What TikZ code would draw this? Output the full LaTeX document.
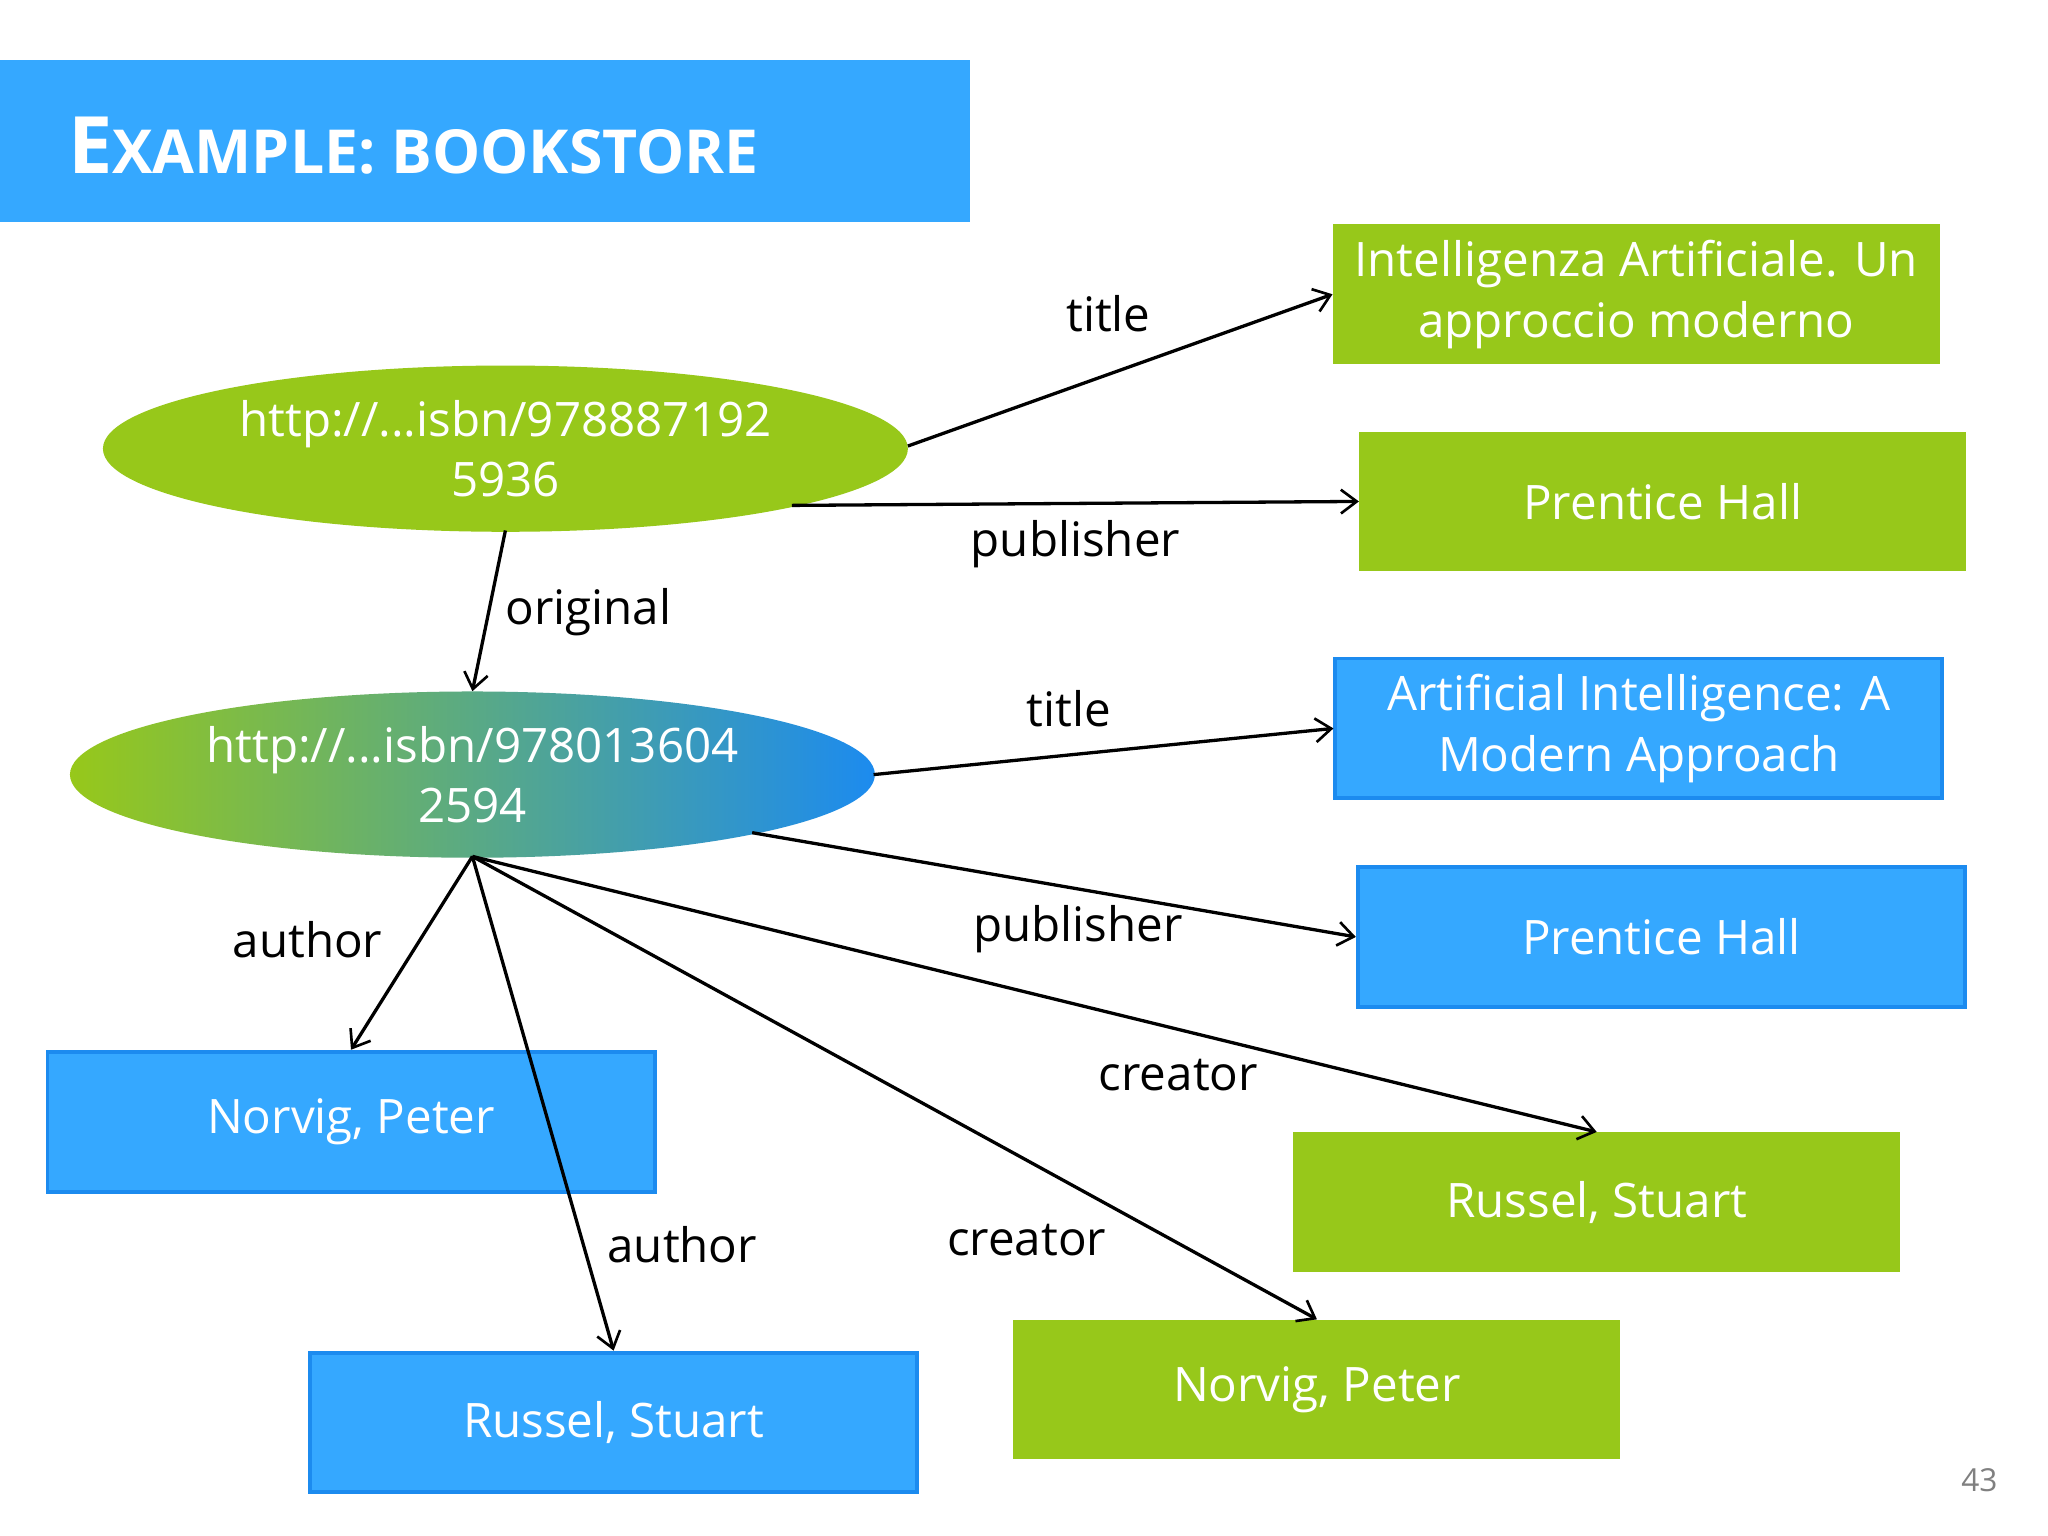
\documentclass[tikz,border=0pt]{standalone}
\usepackage{fontspec}
\setmainfont{Open Sans}
\usetikzlibrary{arrows.meta,shapes.geometric}
\definecolor{gr}{HTML}{97C81A}
\definecolor{bl}{HTML}{35A8FF}
\definecolor{bld}{HTML}{1C8BEF}
\begin{document}
\begin{tikzpicture}[x=1pt,y=-1pt,
  lit/.style={fill=gr,draw=none,minimum width=460pt,minimum height=106pt,text=white,font=\fontsize{36}{46}\selectfont,align=center},
  blit/.style={lit,fill=bl,draw=bld,line width=3pt},
  ell/.style={ellipse,minimum width=610pt,minimum height=126pt,inner sep=0pt,text=white,font=\fontsize{36}{46}\selectfont,align=center,draw=none},
  arr/.style={-{Straight Barb[length=12pt,width=18pt,line width=2pt]},line width=2.5pt},
  lab/.style={font=\fontsize{36}{44}\selectfont,text=black}]
\useasboundingbox (0,0) rectangle (1552,1164);
\fill[white] (0,0) rectangle (1552,1164);
\node[fill=bl,minimum width=735pt,minimum height=123pt,anchor=north west,inner sep=0pt] (bar) at (0,45) {};
\node[anchor=west,text=white,font=\bfseries] (ttl) at (48,110) {\fontsize{60}{60}\selectfont E\fontsize{46}{46}\selectfont XAMPLE: BOOKSTORE};
\node[ell,fill=gr] (e1) at (383,340) {http://...isbn/978887192\\5936};
\node[ell,left color=gr,right color=bld] (e2) at (358,587) {http://...isbn/978013604\\2594};
\node[lit] (t1) at (1240,223) {Intelligenza Artificiale. Un\\approccio moderno};
\node[lit] (p1) at (1260,380) {Prentice Hall};
\node[blit] (t2) at (1242,552) {Artificial Intelligence: A\\Modern Approach};
\node[blit] (p2) at (1259,710) {Prentice Hall};
\node[blit] (n1) at (266,850) {Norvig, Peter};
\node[blit] (r1) at (465,1078) {Russel, Stuart};
\node[lit] (r2) at (1210,911) {Russel, Stuart};
\node[lit] (n2) at (998,1053) {Norvig, Peter};
\coordinate (a1) at (688,338);
\coordinate (a2) at (600,383);
\coordinate (a3) at (383,402);
\coordinate (b1) at (662,587);
\coordinate (b2) at (570,631);
\coordinate (b0) at (358,649);
\draw[arr] (a1) -- (t1.west);
\draw[arr] (a2) -- (p1.west);
\draw[arr] (a3) -- (e2.north);
\draw[arr] (b1) -- (t2.west);
\draw[arr] (b2) -- (p2.west);
\draw[arr] (b0) -- (n1.north);
\draw[arr] (b0) -- (r1.north);
\draw[arr] (b0) -- (r2.north);
\draw[arr] (b0) -- (n2.north);
\node[lab] (l1) at (840,238) {title};
\node[lab] (l2) at (815,412) {publisher};
\node[lab] (l3) at (446,464) {original};
\node[lab] (l4) at (810,537) {title};
\node[lab] (l5) at (817,704) {publisher};
\node[lab] (l6) at (233,712) {author};
\node[lab] (l7) at (517,943) {author};
\node[lab] (l8) at (893,815) {creator};
\node[lab] (l9) at (778,940) {creator};
\node[text=gray,font=\fontsize{24}{24}\selectfont] (pg) at (1500,1122) {43};
\end{tikzpicture}
\end{document}
